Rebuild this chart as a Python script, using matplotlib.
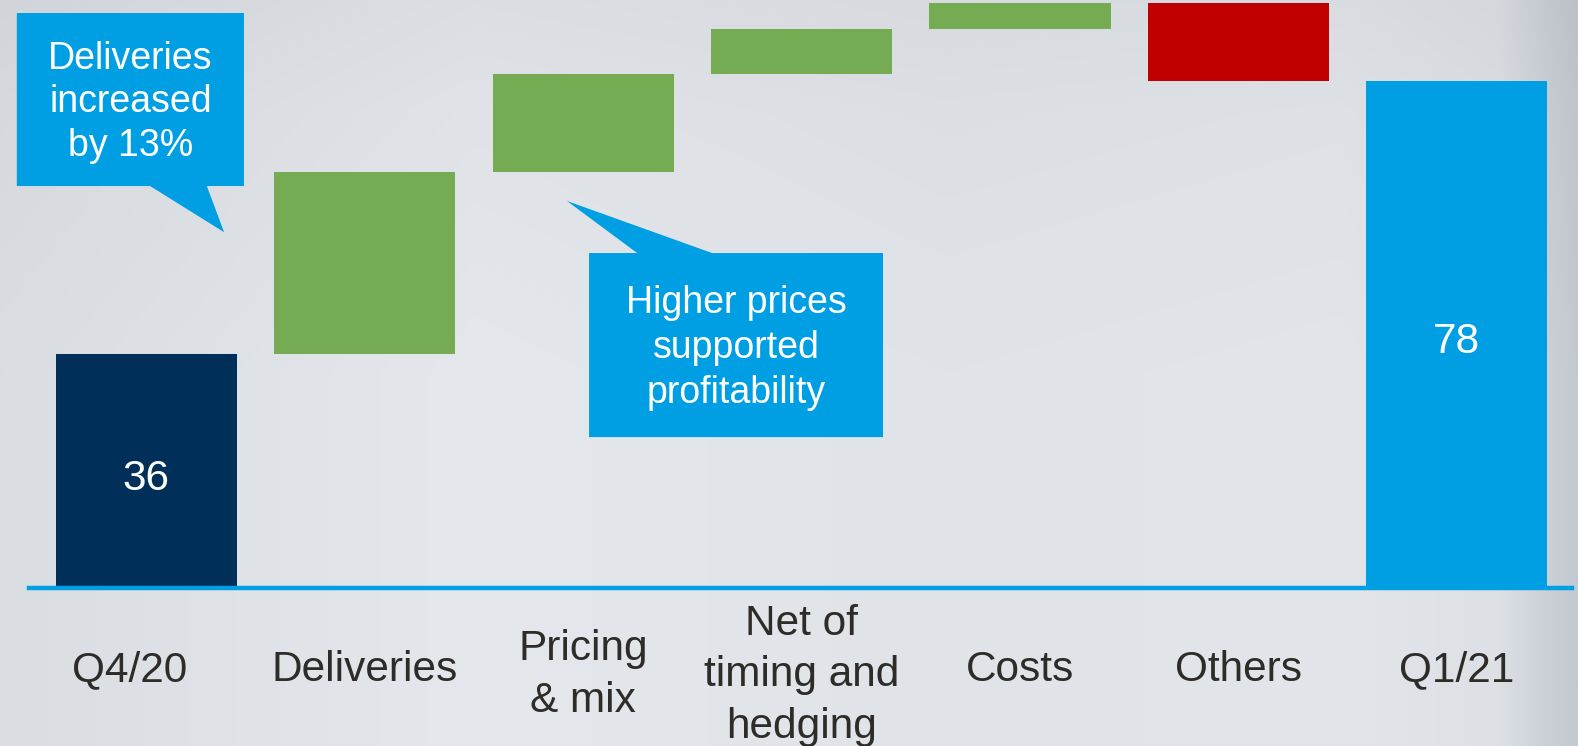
import numpy as np
import matplotlib
matplotlib.use("Agg")
from matplotlib import pyplot as plt
from matplotlib.patches import Polygon
import matplotlib.colors as mcolors

plt.rcParams['font.family'] = ['Liberation Sans', 'DejaVu Sans']

# EBIT bridge, EUR m
categories = ["Q4/20", "Deliveries", "Pricing\n& mix", "Net of\ntiming and\nhedging",
              "Costs", "Others", "Q1/21"]
start_value = 36
deltas = [28, 15, 7, 4, -12]
end_value = 78

navy = "#00305a"
green = "#75ab52"
red = "#c00000"
blue = "#009fe3"
txt_col = "#2d2c28"

fig = plt.figure(figsize=(15.78, 7.46), dpi=100)

# brushed-metal style backdrop
bg_ax = fig.add_axes([0, 0, 1, 1])
bg_ax.set_axis_off()
xs = np.linspace(0, 1, 600)
stops = [0.0, 0.3, 0.6, 0.85, 0.95, 0.98, 1.0]
cols = np.array([mcolors.to_rgb(c) for c in
                 ["#dadee3", "#e4e8ec", "#e0e4e8", "#e2e6ea", "#dde1e6", "#ccd1d8", "#c3c9d0"]])
row = np.stack([np.interp(xs, stops, cols[:, k]) for k in range(3)], axis=-1)
ys = np.linspace(0, 1, 200)
shade = np.interp(ys, [0, 0.15, 0.5, 1.0], [0.96, 0.98, 1.0, 1.0])
img = np.clip(row[None, :, :] * shade[:, None, None], 0, 1)
bg_ax.imshow(img, aspect="auto", extent=[0, 1, 0, 1], origin="upper")
bg_ax.set_xlim(0, 1)
bg_ax.set_ylim(0, 1)

ax = fig.add_axes([0, 0.2118, 1, 0.7882])
ax.patch.set_alpha(0)
for s in ax.spines.values():
    s.set_visible(False)
ax.set_xticks([])
ax.set_yticks([])

# bar geometry for the waterfall
bottoms = [0]
heights = [start_value]
colors = [navy]
level = start_value
for d in deltas:
    if d >= 0:
        bottoms.append(level)
        heights.append(d)
        colors.append(green)
    else:
        bottoms.append(level + d)
        heights.append(-d)
        colors.append(red)
    level += d
bottoms.append(0)
heights.append(end_value)
colors.append(blue)

x = np.arange(len(categories))
ax.bar(x, heights, bottom=bottoms, width=0.83, color=colors, zorder=2)
ax.set_xlim(-0.670, 6.555)
ax.set_ylim(0, 90.4)

ax.axhline(0, xmin=0.0184, xmax=0.9962, color=blue, lw=3.2, zorder=3, clip_on=False)

# totals inside the end bars
ax.text(x[0], start_value / 2 - 1.2, str(start_value), color="white", fontsize=30.5,
        ha="center", va="center")
ax.text(x[-1], end_value / 2 - 1.2, str(end_value), color="white", fontsize=30.5,
        ha="center", va="center")

# category labels below the axis (first one sits a bit left of its bar)
label_dx = [-0.075, 0, 0, 0, 0, 0, 0]
for xi, dx, lab in zip(x, label_dx, categories):
    ly = -12.6 if "\n" not in lab else -13.4
    ax.text(xi + dx, ly, lab, color=txt_col, fontsize=30.5, ha="center", va="center",
            linespacing=1.37, clip_on=False)

# callout 1
box1 = [(-0.593, 88.4), (0.447, 88.4), (0.447, 61.8), (0.277, 61.8),
        (0.356, 54.7), (0.017, 61.8), (-0.593, 61.8)]
ax.add_patch(Polygon(box1, closed=True, facecolor=blue, edgecolor="none", zorder=4))
ax.text(-0.073, 74.7, "Deliveries\nincreased\nby 13%", color="white", fontsize=27,
        ha="center", va="center", linespacing=1.27, zorder=5)

# callout 2
box2 = [(2.027, 51.5), (2.247, 51.5), (1.926, 59.5), (2.590, 51.5),
        (3.373, 51.5), (3.373, 23.2), (2.027, 23.2)]
ax.add_patch(Polygon(box2, closed=True, facecolor=blue, edgecolor="none", zorder=4))
ax.text(2.70, 36.9, "Higher prices\nsupported\nprofitability", color="white",
        fontsize=27, ha="center", va="center", linespacing=1.31, zorder=5)

fig.savefig("out.png", dpi=100)
